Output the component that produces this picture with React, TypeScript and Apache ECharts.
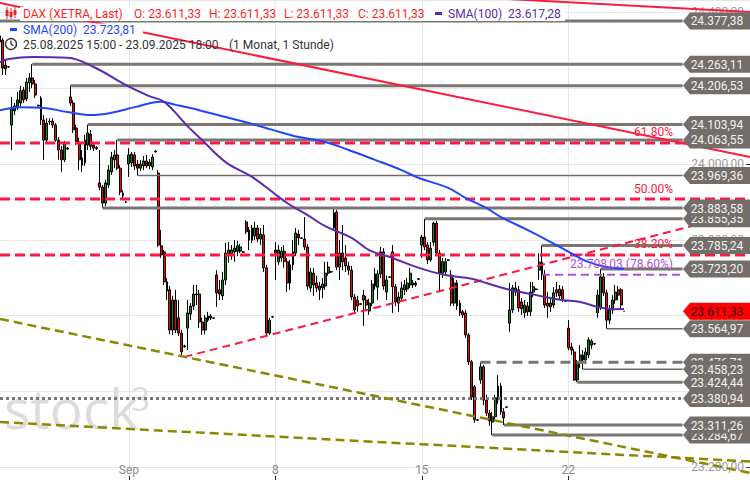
import React, { useEffect, useRef } from "react";
import * as echarts from "echarts";

// ---------- categories (hourly XETRA bars) ----------
const tradingDays = [
  "25.08.2025", "26.08.2025", "27.08.2025", "28.08.2025", "29.08.2025",
  "01.09.2025", "02.09.2025", "03.09.2025", "04.09.2025", "05.09.2025",
  "08.09.2025", "09.09.2025", "10.09.2025", "11.09.2025", "12.09.2025",
  "15.09.2025", "16.09.2025", "17.09.2025", "18.09.2025", "19.09.2025",
  "22.09.2025", "23.09.2025",
];
const sessionHours = ["09:00", "10:00", "11:00", "12:00", "13:00", "14:00", "15:00", "16:00", "17:00", "18:00"];
const firstDayHours = ["15:00", "16:00", "17:00", "18:00"];
const futureSlots = 43;
const weekTicks: Record<string, string> = {
  "01.09.2025 09:00": "Sep",
  "08.09.2025 09:00": "8",
  "15.09.2025 09:00": "15",
  "22.09.2025 09:00": "22",
};

// ---------- candles: [open, close, low, high] ----------
const candles: number[][] = [
  [24322, 24338, 24274, 24377.38], [24327, 24253, 24235, 24332], [24251, 24261, 24235, 24274], [24257, 24256, 24254, 24258],
  [24103, 24148, 24037, 24177], [24140, 24153, 24129, 24161], [24150, 24169, 24142, 24190], [24161, 24193, 24153, 24206],
  [24195, 24169, 24161, 24203], [24172, 24216, 24166, 24227], [24214, 24227, 24190, 24240], [24227, 24211, 24200, 24263.11],
  [24211, 24182, 24174, 24222], [24155, 24153, 24152, 24156],
  [24174, 24116, 24103, 24179], [24116, 24063, 24011, 24129], [24063, 24108, 24055, 24121], [24111, 24113, 24103, 24121],
  [24113, 24103, 24095, 24121], [24103, 24063, 24058, 24108], [24063, 24037, 24011, 24071], [24037, 24011, 23979, 24047],
  [24011, 24055, 24005, 24061], [24040, 24042, 24037, 24045],
  [24177, 24161, 24153, 24206.53], [24161, 24090, 24082, 24169], [24095, 24058, 24050, 24103], [24058, 24011, 23984, 24069],
  [24016, 23997, 23979, 24037], [24003, 24063, 23995, 24077], [24050, 24082, 24037, 24103.94], [24079, 24047, 24037, 24090],
  [24050, 24042, 24034, 24055], [24043, 24041, 24037, 24047],
  [23950, 23939, 23931, 24037], [23939, 23897, 23883.58, 23945], [23897, 23950, 23889, 23958], [23945, 23984, 23937, 23997],
  [23979, 24018, 23971, 24032], [24011, 24024, 23989, 24037], [24024, 23989, 23984, 24063.55], [23989, 23926, 23918, 23997],
  [23923, 23916, 23905, 23931], [23900, 23899, 23897, 23902],
  [24000, 24024, 23966, 24042], [24003, 24026, 23992, 24032], [24024, 23995, 23984, 24032], [24000, 23989, 23969.36, 24011],
  [23989, 24000, 23982, 24011], [23995, 24008, 23984, 24021], [24008, 23995, 23989, 24024], [23995, 24005, 23987, 24013],
  [23992, 24018, 23984, 24026], [24034, 24032, 24030, 24036],
  [23976, 23786, 23781, 23984], [23784, 23760, 23752, 23826], [23768, 23689, 23681, 23773], [23689, 23665, 23641, 23699],
  [23668, 23562, 23551, 23678], [23562, 23641, 23549, 23652], [23641, 23562, 23554, 23668], [23594, 23554, 23546, 23641],
  [23554, 23504, 23491, 23562], [23520, 23518, 23515, 23523],
  [23567, 23607, 23509, 23641], [23604, 23625, 23588, 23633], [23625, 23657, 23615, 23681], [23657, 23655, 23628, 23681],
  [23657, 23583, 23567, 23668], [23583, 23562, 23549, 23594], [23562, 23594, 23551, 23602], [23588, 23599, 23583, 23610],
  [23599, 23594, 23588, 23604], [23594, 23593, 23591, 23596],
  [23707, 23660, 23623, 23720], [23668, 23657, 23641, 23694], [23652, 23694, 23641, 23715], [23694, 23765, 23681, 23792],
  [23760, 23773, 23739, 23794], [23763, 23773, 23747, 23786], [23768, 23778, 23742, 23799], [23770, 23784, 23757, 23797],
  [23770, 23781, 23765, 23789], [23768, 23767, 23765, 23770],
  [23847, 23821, 23815, 23852], [23826, 23799, 23773, 23834], [23799, 23831, 23792, 23839], [23810, 23831, 23799, 23847],
  [23831, 23802, 23794, 23839], [23802, 23815, 23786, 23831], [23813, 23726, 23715, 23839], [23726, 23554, 23546, 23734],
  [23554, 23588, 23549, 23594], [23597, 23596, 23594, 23599],
  [23773, 23765, 23694, 23794], [23742, 23773, 23734, 23786], [23752, 23770, 23742, 23781], [23770, 23742, 23726, 23786],
  [23742, 23686, 23662, 23752], [23686, 23734, 23668, 23747], [23734, 23768, 23720, 23799], [23765, 23818, 23757, 23831],
  [23815, 23805, 23786, 23826], [23805, 23804, 23802, 23807],
  [23802, 23781, 23773, 23860], [23781, 23678, 23668, 23789], [23673, 23715, 23662, 23726], [23712, 23681, 23652, 23726],
  [23686, 23673, 23662, 23705], [23678, 23668, 23641, 23689], [23673, 23683, 23646, 23699], [23678, 23712, 23668, 23742],
  [23712, 23728, 23705, 23742], [23716, 23715, 23713, 23718],
  [23831, 23871, 23826, 23881], [23873, 23728, 23720, 23879], [23728, 23765, 23694, 23799], [23765, 23742, 23720, 23839],
  [23752, 23731, 23715, 23786], [23731, 23720, 23707, 23742], [23720, 23649, 23641, 23731], [23649, 23615, 23604, 23657],
  [23641, 23625, 23610, 23652], [23631, 23630, 23628, 23633],
  [23654, 23641, 23573, 23668], [23641, 23628, 23615, 23652], [23612, 23633, 23602, 23644], [23633, 23683, 23625, 23694],
  [23678, 23710, 23668, 23726], [23675, 23710, 23641, 23720], [23710, 23768, 23699, 23781], [23768, 23678, 23668, 23778],
  [23662, 23694, 23641, 23705], [23702, 23701, 23699, 23704],
  [23768, 23676, 23607, 23786], [23676, 23636, 23625, 23683], [23633, 23649, 23610, 23662], [23646, 23673, 23641, 23689],
  [23668, 23681, 23654, 23694], [23670, 23686, 23662, 23699], [23681, 23712, 23673, 23726], [23681, 23686, 23673, 23694],
  [23686, 23681, 23676, 23691], [23697, 23696, 23694, 23699],
  [23786, 23807, 23752, 23813], [23807, 23781, 23773, 23855.35], [23786, 23747, 23736, 23794], [23747, 23778, 23742, 23794],
  [23794, 23844, 23784, 23847], [23844, 23765, 23757, 23850], [23765, 23712, 23662, 23773], [23712, 23742, 23699, 23752],
  [23715, 23742, 23710, 23752], [23747, 23746, 23744, 23749],
  [23707, 23633, 23625, 23720], [23633, 23686, 23625, 23699], [23686, 23625, 23615, 23694], [23633, 23607, 23599, 23641],
  [23610, 23602, 23594, 23615], [23607, 23549, 23541, 23615], [23549, 23478, 23470, 23554], [23478, 23385, 23377, 23483],
  [23412, 23325, 23317, 23417], [23325, 23324, 23322, 23327],
  [23430, 23465, 23420, 23476.71], [23465, 23377, 23364, 23470], [23377, 23343, 23335, 23391], [23343, 23322, 23309, 23351],
  [23319, 23333, 23284.67, 23346], [23333, 23383, 23325, 23391], [23377, 23414, 23367, 23443], [23414, 23346, 23338, 23422],
  [23346, 23330, 23311.26, 23356], [23359, 23358, 23356, 23361],
  [23580, 23615, 23557, 23686], [23615, 23673, 23607, 23681], [23662, 23673, 23652, 23689], [23668, 23620, 23610, 23678],
  [23636, 23618, 23602, 23646], [23607, 23628, 23594, 23641], [23625, 23610, 23599, 23636], [23610, 23662, 23599, 23689],
  [23662, 23676, 23649, 23689], [23670, 23669, 23667, 23672],
  [23720, 23741, 23694, 23765], [23741, 23707, 23694, 23785.24], [23707, 23628, 23620, 23720], [23633, 23625, 23594, 23662],
  [23633, 23623, 23610, 23646], [23628, 23660, 23620, 23675], [23660, 23668, 23649, 23689], [23670, 23652, 23641, 23681],
  [23668, 23641, 23636, 23678], [23639, 23638, 23636, 23641],
  [23567, 23515, 23509, 23588], [23517, 23509, 23496, 23528], [23504, 23430, 23428, 23512], [23430, 23475, 23424.44, 23483],
  [23475, 23496, 23462, 23522], [23483, 23496, 23458.23, 23509], [23483, 23504, 23472, 23515], [23496, 23536, 23488, 23543],
  [23522, 23533, 23512, 23538], [23526, 23525, 23523, 23528],
  [23607, 23654, 23594, 23668], [23623, 23702, 23615, 23723.2], [23702, 23660, 23652, 23712], [23660, 23588, 23564.97, 23668],
  [23588, 23615, 23578, 23628], [23615, 23641, 23604, 23654], [23641, 23662, 23631, 23681], [23668, 23654, 23641, 23678],
  [23668, 23628, 23620, 23673], [23611.33, 23611.33, 23611.33, 23611.33],
];

// ---------- moving averages: [bar index, value] ----------
const sma100: number[][] = [
  [0, 24269], [3, 24277], [11, 24282], [23, 24280], [32, 24256], [43, 24208], [51, 24179], [56, 24164],
  [64, 24100], [69, 24063], [77, 24005], [86, 23966], [93, 23926], [98, 23897], [105, 23865], [111, 23836],
  [120, 23805], [126, 23773], [134, 23752], [143, 23726], [152, 23707], [161, 23697], [166, 23686], [174, 23668],
  [183, 23654], [192, 23641], [198, 23636], [204, 23623], [209, 23617], [213, 23617.28],
];
const sma200: number[][] = [
  [0, 24142], [7, 24150], [15, 24148], [23, 24137], [31, 24129], [38, 24135], [46, 24150], [55, 24164],
  [60, 24156], [68, 24142], [77, 24124], [85, 24108], [93, 24090], [102, 24071], [111, 24058], [119, 24037],
  [128, 24011], [137, 23984], [143, 23963], [153, 23937], [159, 23910], [166, 23884], [171, 23860], [180, 23826],
  [188, 23794], [196, 23760], [201, 23741], [207, 23728], [213, 23723.81],
];

// ---------- horizontal levels ----------
const levelPrices = [24377.38, 24263.11, 24206.53, 24103.94, 24063.55, 23969.36, 23855.35, 23883.58, 23785.24,
  23723.2, 23564.97, 23476.71, 23424.44, 23458.23, 23380.94, 23284.67, 23311.26];
const levelStartBar = [0, 11, 24, 30, 40, 47, 145, 35, 185, 205, 207, 164, 197, 199, 0, 168, 172];
const levelKind = ["thick", "thick", "thick", "thick", "thick", "thin", "thick", "thick", "thick",
  "thick", "thin", "dash", "thick", "thin", "dot", "thick", "thick"];
const lastPrice = 23611.33;
const sma100Last = 23617.28;
const sma200Last = 23723.81;

// Fibonacci retracement
const fibLevels = [24055.4, 23907.6, 23759.9];
const fibLabels = ["61.80%", "50.00%", "38.20%"];
const fib786 = { price: 23708.03, start: 185, label: "78.60%" };

// trend lines: [bar index, price]
const redTrendA = [[0, 24424.8], [256, 24018.5]];
const redTrendB = [[150, 24445], [256, 24401]];
const redRising = [[63, 23491], [256, 23876]];
const oliveA = [[0, 23591], [256, 23185]];
const oliveB = [[0, 23319], [256, 23215]];

const LEVEL_END = 233;
const Y_MIN = 23166.2;
const Y_MAX = 24432.7;

const fmt = (v: number) => {
  const [i, d] = v.toFixed(2).split(".");
  return i.replace(/\B(?=(\d{3})+(?!\d))/g, ".") + "," + d;
};

const FONT = "Roboto, 'Liberation Sans', sans-serif";
const GREEN = "#0c8a0c";
const RED = "#ff0000";
const FIBRED = "#ff1744";
const PURPLE = "#5b2ab0";
const BLUE = "#1f45ff";
const GREY = "#7a7672";
const OLIVE = "#8c8700";
const MAGENTA = "#b04ee0";

export default function App() {
  const ref = useRef<HTMLDivElement>(null);
  useEffect(() => {
    const chart = echarts.init(ref.current!, null, { renderer: "svg" });

    const categories: string[] = [];
    tradingDays.forEach((d, k) => {
      (k === 0 ? firstDayHours : sessionHours).forEach((h) => categories.push(d + " " + h));
    });
    for (let k = 1; k <= futureSlots; k++) categories.push("+" + k);

    const isWeekTick = (i: number) => weekTicks[categories[i]] !== undefined;

    const lineSeries = (data: number[][], color: string, width: number, type: any, z = 4) => ({
      type: "line",
      data,
      symbol: "none",
      silent: true,
      clip: true,
      z,
      lineStyle: { color, width, type },
      animation: false,
    });

    const levelSeries = levelPrices.map((p, k) => {
      const kind = levelKind[k];
      const width = kind === "thin" ? 1.5 : 3;
      const type = kind === "dash" ? [10, 6] : kind === "dot" ? [3, 3] : "solid";
      return lineSeries([[levelStartBar[k], p], [LEVEL_END, p]], kind === "thin" ? "#6f6b67" : GREY, width, type, 4);
    });

    const fibSeries = fibLevels.map((p) => lineSeries([[0, p], [256, p]], FIBRED, 3, [10, 5], 4));

    chart.setOption({
      animation: false,
      grid: { left: 0, right: 0, top: 0, bottom: 0, containLabel: false },
      xAxis: {
        type: "category",
        data: categories,
        boundaryGap: false,
        axisLine: { show: false },
        axisTick: { show: true, inside: true, length: 4, interval: (i: number) => isWeekTick(i), lineStyle: { color: "#222" } },
        axisLabel: {
          inside: true,
          margin: 4,
          interval: (i: number) => isWeekTick(i),
          formatter: (v: string) => weekTicks[v] ?? "",
          color: "#8a8a8a",
          fontSize: 12,
          fontFamily: FONT,
        },
        splitLine: { show: true, interval: (i: number) => isWeekTick(i), lineStyle: { color: "#e6e6e6", width: 1 } },
      },
      yAxis: {
        type: "value",
        position: "right",
        min: Y_MIN,
        max: Y_MAX,
        splitNumber: 6,
        minInterval: 200,
        maxInterval: 200,
        axisLine: { show: false },
        axisTick: { show: true, inside: true, length: 4, lineStyle: { color: "#444" } },
        axisLabel: {
          inside: true,
          margin: 6,
          showMinLabel: false,
          showMaxLabel: false,
          formatter: (v: number) => (Math.abs(v % 200) < 0.01 ? fmt(v) : ""),
          color: "#9a9a9a",
          fontSize: 12,
          fontFamily: FONT,
        },
        splitLine: { show: true, lineStyle: { color: "#e8e8e8", width: 1 } },
      },
      series: [
        {
          type: "candlestick",
          data: candles,
          barWidth: 2.4,
          z: 3,
          itemStyle: { color: GREEN, color0: RED, borderColor: "#000", borderColor0: "#000", borderWidth: 1 },
          silent: true,
        },
        ...levelSeries,
        ...fibSeries,
        lineSeries([[fib786.start, fib786.price], [LEVEL_END, fib786.price]], MAGENTA, 2, [8, 5], 4),
        lineSeries(redTrendA, "#ff1a3c", 2, "solid", 4),
        lineSeries(redTrendB, "#ff1a3c", 2, "solid", 4),
        lineSeries(redRising, FIBRED, 2, [8, 5], 4),
        lineSeries(oliveA, OLIVE, 2.5, [9, 5], 4),
        lineSeries(oliveB, OLIVE, 2.5, [9, 5], 4),
        { ...lineSeries(sma200, BLUE, 2, "solid", 6), smooth: 0.4 },
        { ...lineSeries(sma100, PURPLE, 2, "solid", 6), smooth: 0.4 },
      ],
    });

    const yPx = (p: number) => chart.convertToPixel({ yAxisIndex: 0 }, p) as number;

    const txt = (text: string, x: number, y: number, fill: string, opts: any = {}) => ({
      type: "text",
      z: opts.z ?? 60,
      silent: true,
      style: {
        text,
        x,
        y,
        fill,
        font: `${opts.weight ?? "normal"} ${opts.size ?? 12}px ${opts.family ?? FONT}`,
        align: opts.align ?? "left",
        verticalAlign: opts.valign ?? "middle",
        textAlign: opts.align ?? "left",
        textVerticalAlign: opts.valign ?? "middle",
      },
    });

    const tag = (p: number, fill: string, color: string, z: number) => {
      const y = yPx(p);
      return [
        {
          type: "polygon",
          z,
          silent: true,
          shape: { points: [[683, y], [690, y - 8.5], [750, y - 8.5], [750, y + 8.5], [690, y + 8.5]] },
          style: { fill },
        },
        txt(fmt(p), 717, y + 0.5, color, { z: z + 0.5, align: "center" }),
      ];
    };

    const graphics: any[] = [];
    // watermark
    graphics.push(txt("stock", 4, 407, "#dcdcdc", { size: 55, family: "'Open Sans', sans-serif", z: 1 }));
    graphics.push(txt("3", 131, 398, "#dcdcdc", { size: 33, family: "'Open Sans', sans-serif", z: 1 }));

    // Fibonacci labels
    fibLevels.forEach((p, k) => graphics.push(txt(fibLabels[k], 673, yPx(p) - 10.5, FIBRED, { align: "right", z: 20 })));
    graphics.push(txt(`${fmt(fib786.price)} (${fib786.label})`, 673, yPx(fib786.price) - 10.5, MAGENTA, { align: "right", z: 20 }));

    // price tags
    levelPrices.forEach((p, k) => graphics.push(...tag(p, "#736e6a", "#f2f2f2", 40 + k)));
    graphics.push(...tag(lastPrice, "#ff0000", "#300000", 70));

    // header row 1
    graphics.push({ type: "rect", z: 55, silent: true, shape: { x: 20, y: 7, width: 545, height: 14 }, style: { fill: "#fff" } });
    graphics.push({ type: "line", z: 61, silent: true, shape: { x1: 7, y1: 7, x2: 7, y2: 19 }, style: { stroke: "#e8262b", lineWidth: 1 } });
    graphics.push({ type: "line", z: 61, silent: true, shape: { x1: 11, y1: 8, x2: 11, y2: 19 }, style: { stroke: "#e8262b", lineWidth: 1 } });
    graphics.push({ type: "line", z: 61, silent: true, shape: { x1: 15, y1: 7, x2: 15, y2: 18 }, style: { stroke: "#e8262b", lineWidth: 1 } });
    graphics.push({ type: "rect", z: 62, silent: true, shape: { x: 5.5, y: 10, width: 3, height: 6 }, style: { fill: "#e8262b" } });
    graphics.push({ type: "rect", z: 62, silent: true, shape: { x: 9.5, y: 12, width: 3, height: 5 }, style: { fill: "#e8262b" } });
    graphics.push({ type: "rect", z: 62, silent: true, shape: { x: 13.5, y: 10, width: 3, height: 5 }, style: { fill: "#e8262b" } });
    const HRED = "#ff1f1f";
    const last = candles[candles.length - 1];
    graphics.push(txt("DAX (XETRA, Last)", 23, 13.5, HRED));
    graphics.push(txt("O: " + fmt(last[0]), 134, 13.5, HRED));
    graphics.push(txt("H: " + fmt(last[3]), 209, 13.5, HRED));
    graphics.push(txt("L: " + fmt(last[2]), 284, 13.5, HRED));
    graphics.push(txt("C: " + fmt(last[1]), 358, 13.5, HRED));
    graphics.push({ type: "rect", z: 61, silent: true, shape: { x: 435, y: 12, width: 7, height: 3 }, style: { fill: PURPLE } });
    graphics.push(txt("SMA(100)", 448, 13.5, PURPLE));
    graphics.push(txt(fmt(sma100Last), 508, 13.5, PURPLE));

    // header row 2
    graphics.push({ type: "rect", z: 55, silent: true, shape: { x: 8, y: 23.5, width: 135, height: 14 }, style: { fill: "#fff" } });
    graphics.push({ type: "rect", z: 61, silent: true, shape: { x: 10, y: 28, width: 7, height: 3 }, style: { fill: BLUE } });
    graphics.push(txt("SMA(200)", 23, 29.5, BLUE));
    graphics.push(txt(fmt(sma200Last), 83, 29.5, BLUE));

    // header row 3
    graphics.push({ type: "circle", z: 61, silent: true, shape: { cx: 11, cy: 44, r: 5.5 }, style: { fill: "none", stroke: "#333", lineWidth: 1.4 } });
    graphics.push({ type: "polyline", z: 61, silent: true, shape: { points: [[11, 40.5], [11, 44], [13.5, 45.8]] }, style: { fill: "none", stroke: "#333", lineWidth: 1.3 } });
    graphics.push(txt("25.08.2025 15:00 - 23.09.2025 18:00", 23, 44.5, "#333"));
    graphics.push(txt("(1 Monat, 1 Stunde)", 229, 44.5, "#333"));

    chart.setOption({ graphic: { elements: graphics } });

    return () => chart.dispose();
  }, []);

  return <div ref={ref} style={{ position: "fixed", left: 0, top: 0, width: 750, height: 480, background: "#fff" }} />;
}
